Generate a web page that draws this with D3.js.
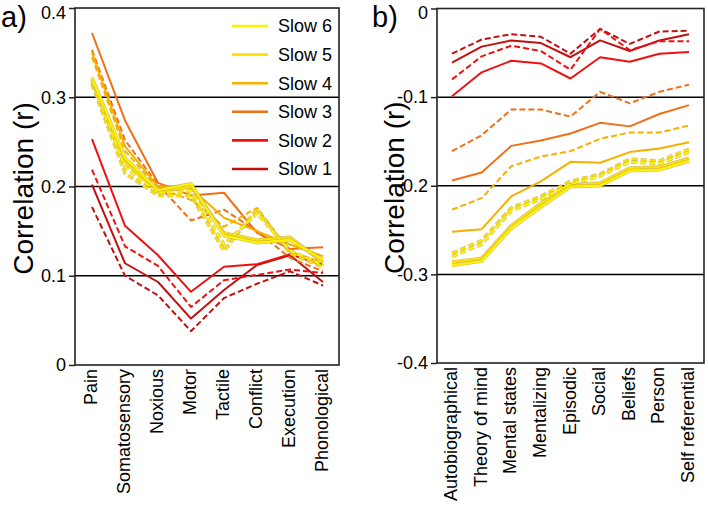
<!DOCTYPE html>
<html>
<head>
<meta charset="utf-8">
<script src="https://cdn.jsdelivr.net/npm/d3@7"></script>
<style>
  html, body { margin: 0; padding: 0; background: #fff; }
  svg { display: block; font-family: "Liberation Sans", Arial, sans-serif; }
</style>
</head>
<body>
<svg id="chart" width="708" height="506"></svg>
<script>
// ---------------- DATA ----------------
const seriesNames = ["Slow 6", "Slow 5", "Slow 4", "Slow 3", "Slow 2", "Slow 1"];
const seriesColors = ["#fff200", "#ffe100", "#f5b000", "#f07018", "#ee1111", "#c01010"];

// Panel a
const catsA = ["Pain", "Somatosensory", "Noxious", "Motor", "Tactile", "Conflict", "Execution", "Phonological"];
const yTicksA = [0, 0.1, 0.2, 0.3, 0.4];
const yTickLabelsA = ["0", "0.1", "0.2", "0.3", "0.4"];
const a_slow6_solid  = [0.322, 0.232, 0.196, 0.203, 0.145, 0.137, 0.140, 0.118];
const a_slow6_dashed = [0.318, 0.222, 0.193, 0.195, 0.135, 0.170, 0.128, 0.112];
const a_slow5_solid  = [0.320, 0.228, 0.194, 0.200, 0.148, 0.140, 0.143, 0.115];
const a_slow5_dashed = [0.315, 0.215, 0.190, 0.190, 0.128, 0.175, 0.125, 0.110];
const a_slow4_solid  = [0.350, 0.245, 0.200, 0.198, 0.165, 0.150, 0.135, 0.122];
const a_slow4_dashed = [0.345, 0.240, 0.198, 0.185, 0.155, 0.176, 0.127, 0.115];
const a_slow3_solid  = [0.372, 0.274, 0.204, 0.190, 0.193, 0.148, 0.130, 0.132];
const a_slow3_dashed = [0.353, 0.252, 0.202, 0.162, 0.174, 0.150, 0.120, 0.105];
const a_slow2_solid  = [0.253, 0.156, 0.123, 0.082, 0.110, 0.113, 0.124, 0.112];
const a_slow2_dashed = [0.219, 0.133, 0.111, 0.065, 0.095, 0.101, 0.107, 0.103];
const a_slow1_solid  = [0.202, 0.114, 0.093, 0.052, 0.084, 0.112, 0.123, 0.093];
const a_slow1_dashed = [0.177, 0.100, 0.078, 0.038, 0.075, 0.091, 0.105, 0.089];

// Panel b
const catsB = ["Autobiographical", "Theory of mind", "Mental states", "Mentalizing", "Episodic", "Social", "Beliefs", "Person", "Self referential"];
const yTicksB = [-0.4, -0.3, -0.2, -0.1, 0];
const yTickLabelsB = ["-0.4", "-0.3", "-0.2", "-0.1", "0"];
const b_slow6_solid  = [-0.290, -0.285, -0.248, -0.224, -0.201, -0.200, -0.183, -0.182, -0.172];
const b_slow6_dashed = [-0.280, -0.266, -0.228, -0.215, -0.198, -0.189, -0.173, -0.175, -0.162];
const b_slow5_solid  = [-0.286, -0.282, -0.245, -0.220, -0.199, -0.197, -0.180, -0.179, -0.169];
const b_slow5_dashed = [-0.276, -0.262, -0.225, -0.212, -0.195, -0.187, -0.170, -0.172, -0.159];
const b_slow4_solid  = [-0.252, -0.249, -0.212, -0.195, -0.173, -0.174, -0.162, -0.158, -0.151];
const b_slow4_dashed = [-0.227, -0.214, -0.178, -0.167, -0.161, -0.147, -0.140, -0.140, -0.132];
const b_slow3_solid  = [-0.194, -0.185, -0.155, -0.149, -0.141, -0.129, -0.133, -0.119, -0.109];
const b_slow3_dashed = [-0.161, -0.143, -0.114, -0.114, -0.122, -0.094, -0.107, -0.094, -0.086];
const b_slow2_solid  = [-0.099, -0.072, -0.059, -0.062, -0.079, -0.055, -0.060, -0.051, -0.049];
const b_slow2_dashed = [-0.080, -0.054, -0.042, -0.048, -0.069, -0.023, -0.047, -0.037, -0.037];
const b_slow1_solid  = [-0.061, -0.043, -0.036, -0.039, -0.055, -0.036, -0.048, -0.036, -0.029];
const b_slow1_dashed = [-0.051, -0.035, -0.029, -0.032, -0.051, -0.023, -0.040, -0.026, -0.025];

// ---------------- BUILD ----------------
const colorOf = d3.scaleOrdinal().domain(seriesNames).range(seriesColors);

// drawing order: reds first, yellows on top
const linesA = [
  {s: "Slow 1", dashed: true,  v: a_slow1_dashed}, {s: "Slow 1", dashed: false, v: a_slow1_solid},
  {s: "Slow 2", dashed: true,  v: a_slow2_dashed}, {s: "Slow 2", dashed: false, v: a_slow2_solid},
  {s: "Slow 3", dashed: true,  v: a_slow3_dashed}, {s: "Slow 3", dashed: false, v: a_slow3_solid},
  {s: "Slow 4", dashed: true,  v: a_slow4_dashed}, {s: "Slow 4", dashed: false, v: a_slow4_solid},
  {s: "Slow 5", dashed: true,  v: a_slow5_dashed}, {s: "Slow 5", dashed: false, v: a_slow5_solid},
  {s: "Slow 6", dashed: true,  v: a_slow6_dashed}, {s: "Slow 6", dashed: false, v: a_slow6_solid}
];
const linesB = [
  {s: "Slow 1", dashed: true,  v: b_slow1_dashed}, {s: "Slow 1", dashed: false, v: b_slow1_solid},
  {s: "Slow 2", dashed: true,  v: b_slow2_dashed}, {s: "Slow 2", dashed: false, v: b_slow2_solid},
  {s: "Slow 3", dashed: true,  v: b_slow3_dashed}, {s: "Slow 3", dashed: false, v: b_slow3_solid},
  {s: "Slow 4", dashed: true,  v: b_slow4_dashed}, {s: "Slow 4", dashed: false, v: b_slow4_solid},
  {s: "Slow 5", dashed: true,  v: b_slow5_dashed}, {s: "Slow 5", dashed: false, v: b_slow5_solid},
  {s: "Slow 6", dashed: true,  v: b_slow6_dashed}, {s: "Slow 6", dashed: false, v: b_slow6_solid}
];

const svg = d3.select("#chart");

function panel(opts) {
  const {cats, lines, yDomain, yTicks, yLabels, frame, xRange, letter, letterX, titleX} = opts;
  const g = svg.append("g");
  const x = d3.scalePoint().domain(cats).range(xRange);
  const y = d3.scaleLinear().domain(yDomain).range([frame.bottom, frame.top]);

  // gridlines
  g.append("g").selectAll("line")
    .data(yTicks.filter(t => t !== yDomain[0] && t !== yDomain[1]))
    .join("line")
    .attr("x1", frame.left).attr("x2", frame.right)
    .attr("y1", d => y(d)).attr("y2", d => y(d))
    .attr("stroke", "#000").attr("stroke-width", 1.5);

  // lines
  const lineGen = d3.line().x((d, i) => x(cats[i])).y(d => y(d));
  const lg = g.append("g");
  lines.forEach(L => {
    const yellow = (L.s === "Slow 6" || L.s === "Slow 5");
    if (yellow) {
      lg.append("path").datum(L.v)
        .attr("d", lineGen).attr("fill", "none")
        .attr("stroke", "#b8a860").attr("stroke-opacity", 0.75)
        .attr("stroke-width", 3.6)
        .attr("stroke-dasharray", L.dashed ? "6,3" : null)
        .attr("stroke-linejoin", "round");
    }
    lg.append("path").datum(L.v)
      .attr("d", lineGen).attr("fill", "none")
      .attr("stroke", colorOf(L.s))
      .attr("stroke-width", yellow ? 2.4 : 2)
      .attr("stroke-dasharray", L.dashed ? "6,3" : null)
      .attr("stroke-linejoin", "round");
  });

  // frame
  g.append("rect")
    .attr("x", frame.left).attr("y", frame.top)
    .attr("width", frame.right - frame.left).attr("height", frame.bottom - frame.top)
    .attr("fill", "none").attr("stroke", "#222").attr("stroke-width", 1.6);

  // y axis
  const yAxis = d3.axisLeft(y).tickValues(yTicks)
    .tickFormat((d, i) => yLabels[i]).tickSize(6).tickPadding(3);
  const ya = g.append("g").attr("transform", `translate(${frame.left},0)`).call(yAxis);
  ya.select(".domain").remove();
  ya.selectAll(".tick line").attr("stroke", "#222").attr("stroke-width", 1.5);
  ya.selectAll(".tick text").attr("font-size", 18).attr("fill", "#000")
    .attr("font-family", "Liberation Sans, Arial, sans-serif")
    .attr("dy", d => d === yDomain[1] ? "0.58em" : "0.32em");

  // x labels (rotated)
  g.append("g").selectAll("text").data(cats).join("text")
    .attr("transform", d => `translate(${x(d)},${frame.bottom + 4}) rotate(-90)`)
    .attr("text-anchor", "end")
    .attr("dy", "0.28em")
    .attr("font-size", 18)
    .attr("fill", "#000")
    .text(d => d);

  // y title
  g.append("text")
    .attr("transform", `translate(${titleX},${(frame.top + frame.bottom) / 2 + 2}) rotate(-90)`)
    .attr("text-anchor", "middle")
    .attr("font-size", 28)
    .attr("fill", "#000")
    .text("Correlation (r)");

  // panel letter
  svg.append("text")
    .attr("x", letterX).attr("y", 27)
    .attr("font-size", 29)
    .attr("fill", "#000")
    .text(letter);

  return {x, y};
}

panel({
  cats: catsA, lines: linesA, yDomain: [0, 0.4], yTicks: yTicksA, yLabels: yTickLabelsA,
  frame: {left: 75, right: 339, top: 8, bottom: 365}, xRange: [92, 323],
  letter: "a)", letterX: 1, titleX: 33
});
panel({
  cats: catsB, lines: linesB, yDomain: [-0.4, 0], yTicks: yTicksB, yLabels: yTickLabelsB,
  frame: {left: 437, right: 704, top: 8.5, bottom: 363}, xRange: [452, 689],
  letter: "b)", letterX: 372, titleX: 404
});

// legend (panel a)
const legY = d3.scalePoint().domain(seriesNames).range([26, 169]);
const leg = svg.append("g");
seriesNames.forEach(s => {
  leg.append("line")
    .attr("x1", 232).attr("x2", 268)
    .attr("y1", legY(s)).attr("y2", legY(s))
    .attr("stroke", colorOf(s)).attr("stroke-width", 2.6);
  leg.append("text")
    .attr("x", 278).attr("y", legY(s)).attr("dy", "0.35em")
    .attr("font-size", 18).attr("fill", "#000")
    .text(s);
});
</script>
</body>
</html>
